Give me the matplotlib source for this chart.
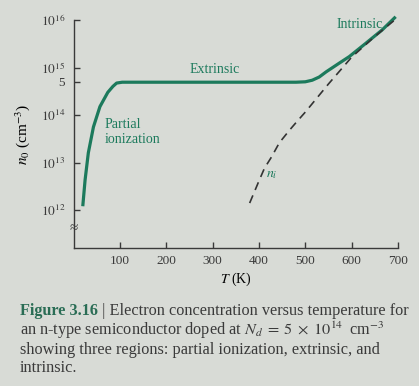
import matplotlib
matplotlib.use("Agg")
import matplotlib.pyplot as plt
import matplotlib.ticker as mticker

# electron concentration n0 (solid curve)
T_n0 = [20, 25, 32, 43, 57, 74, 85, 93, 105, 150, 250, 350, 450, 480,
        500, 515, 530, 545, 573, 595, 630, 666, 695]
n0 = [1.2e12, 4.3e12, 1.6e13, 5.6e13, 1.5e14, 3.0e14, 4.0e14, 4.7e14, 4.9e14,
      4.9e14, 4.9e14, 4.9e14, 4.9e14, 4.9e14,
      5.0e14, 5.4e14, 6.3e14, 8.1e14, 1.23e15, 1.7e15, 3.2e15, 6.2e15, 1.17e16]

# intrinsic concentration ni (dashed curve)
T_ni = [380, 401, 412, 427, 444, 466, 481, 500, 550, 600, 650, 698]
ni = [1.4e12, 4.3e12, 7.6e12, 1.3e13, 2.6e13, 4.8e13, 7.1e13, 1.15e14,
      4.5e14, 1.65e15, 4.5e15, 1.1e16]

x_ticks = [100, 200, 300, 400, 500, 600, 700]
y_ticks = [1e12, 1e13, 1e14, 1e15, 1e16]
y_labels = [r"$10^{12}$", r"$10^{13}$", r"$10^{14}$", r"$10^{15}$", r"$10^{16}$"]

BG = "#d8dbd6"
INK = "#3a3a3a"
GREEN = "#1c7a5c"

plt.rcParams.update({
    "font.family": "Liberation Serif",
    "mathtext.fontset": "stix",
    "font.size": 9.5,
    "text.color": INK,
    "axes.edgecolor": INK,
    "xtick.color": INK,
    "ytick.color": INK,
})

W, H = 419, 386
fig = plt.figure(figsize=(W / 100, H / 100), dpi=100, facecolor=BG)

def px(x, y):
    return x / W, 1 - y / H

left, top = px(73.5, 20)
right, bottom = px(398, 248)
ax = fig.add_axes([left, bottom, right - left, top - bottom])
ax.set_facecolor("none")

ax.plot(T_n0, n0, color=GREEN, lw=2.3, solid_capstyle="butt", clip_on=False)
ax.plot(T_ni, ni, color="#333333", lw=1.2, ls=(0, (5, 3.5)), clip_on=False)

ax.set_yscale("log")
ax.set_xlim(0, 700)
ax.set_ylim(10 ** 11.2, 1e16)

for s in ("top", "right"):
    ax.spines[s].set_visible(False)
ax.spines["left"].set_linewidth(1.0)
ax.spines["bottom"].set_linewidth(1.0)

ax.set_xticks(x_ticks)
ax.set_xticklabels([str(t) for t in x_ticks])
ax.set_yticks(y_ticks + [5e14])
ax.set_yticklabels(y_labels + ["5"])
ax.yaxis.set_minor_locator(mticker.NullLocator())
ax.tick_params(axis="both", direction="in", length=4, width=1.0, labelsize=9.5)
ax.tick_params(axis="y", pad=6)
ax.tick_params(axis="x", pad=5)

ax.set_xlabel(r"$T$ (K)", fontsize=10, labelpad=3)
ax.set_ylabel(r"$n_0$ (cm$^{-3}$)", fontsize=11)
ax.yaxis.set_label_coords(-0.128, 0.5)

# axis break mark
ax.text(0, 10 ** 11.6, "≈", transform=ax.get_yaxis_transform(), ha="center",
        va="center", fontsize=11, color=INK)

# region labels
ax.text(305, 10 ** 14.95, "Extrinsic", color=GREEN, fontsize=10, ha="center", va="center")
ax.text(68, 10 ** 13.65, "Partial\nionization", color=GREEN, fontsize=10,
        ha="left", va="center", linespacing=1.2)
ax.text(668, 10 ** 15.9, "Intrinsic", color=GREEN, fontsize=10, ha="right", va="center")
ax.text(428, 10 ** 12.75, r"$n_i$", color=GREEN, fontsize=10, ha="center", va="center")

# caption
cx = 20 / W
CAP = 11.7
t1 = fig.text(cx, 1 - 311 / H, "Figure 3.16", color="#2a6d55", fontsize=CAP,
              fontweight="bold", va="center")
ann = plt.annotate(" | Electron concentration versus temperature for",
                   xy=(1, 0.5), xycoords=t1, va="center", ha="left",
                   fontsize=CAP, color=INK, annotation_clip=False)
fig.text(cx, 1 - 330 / H,
         r"an n-type semiconductor doped at $N_d\;=\;5\;\times\;10^{14}\;$ cm$^{-3}$",
         fontsize=CAP, va="center")
fig.text(cx, 1 - 350 / H,
         "showing three regions: partial ionization, extrinsic, and",
         fontsize=CAP, va="center")
fig.text(cx, 1 - 368 / H, "intrinsic.", fontsize=CAP, va="center")

fig.savefig("out.png", dpi=100, facecolor=BG)
